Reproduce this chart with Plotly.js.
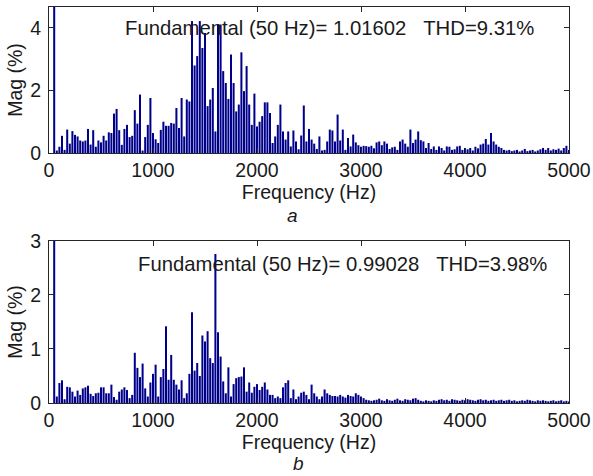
<!DOCTYPE html>
<html>
<head>
<meta charset="utf-8">
<script src="https://cdn.plot.ly/plotly-3.0.1.min.js"></script>
<style>html,body{margin:0;padding:0;background:#fff;}</style>
</head>
<body>
<div id="chart" style="width:593px;height:476px;"></div>
<script>
// Harmonic spectrum bins: first bin frequency and bin spacing (Hz)
const freqStart = 0;
const freqStep = 25;

// Case a: magnitude (% of fundamental), one value per 25 Hz bin, 0..5000 Hz
const magA = [
  0, 0, 100, 0.08, 0.2, 0.55, 0.1, 0.75, 0.3, 0.7,
  0.58, 0.53, 0.4, 0.37, 0.4, 0.77, 0.27, 0.73, 0.2, 0.4,
  0.34, 0.55, 0.4, 0.66, 0.64, 1.26, 1.41, 0.73, 0.26, 0.77,
  0.9, 0.51, 0.55, 1.37, 0.94, 1.87, 0.08, 0.51, 0.9, 1.76,
  0.64, 0.44, 0.32, 0.74, 1.0, 0.87, 0.87, 0.96, 0.94, 1.44,
  0.8, 1.76, 0.53, 1.71, 1.65, 4.22, 2.8, 3.1, 4.22, 3.36,
  3.84, 1.5, 1.71, 2.08, 0.69, 4.11, 4.11, 2.62, 2.24, 1.73,
  3.15, 2.24, 1.33, 1.55, 3.22, 1.98, 2.78, 1.55, 0.9, 1.9,
  0.85, 1.0, 1.18, 1.62, 1.62, 1.28, 0.32, 0.53, 0.9, 1.55,
  0.69, 0.43, 0.69, 0.21, 0.72, 0.37, 0.12, 0.56, 1.52, 0.37,
  0.77, 0.43, 0.3, 0.13, 0.53, 0.08, 0.1, 0.37, 0.75, 0.72,
  0.37, 1.23, 0.4, 0.75, 0.1, 0.48, 0.21, 0.59, 0.34, 0.25,
  0.2, 0.23, 0.22, 0.2, 0.23, 0.15, 0.34, 0.37, 0.25, 0.37,
  0.3, 0.13, 0.18, 0.2, 0.1, 0.37, 0.43, 0.3, 0.2, 0.75,
  0.32, 0.43, 0.69, 0.41, 0.37, 0.16, 0.32, 0.13, 0.21, 0.1,
  0.21, 0.16, 0.08, 0.21, 0.2, 0.1, 0.12, 0.21, 0.23, 0.1,
  0.16, 0.12, 0.16, 0.08, 0.2, 0.15, 0.27, 0.3, 0.45, 0.27,
  0.64, 0.37, 0.27, 0.2, 0.16, 0.1, 0.08, 0.1, 0.06, 0.08,
  0.1, 0.05, 0.08, 0.13, 0.06, 0.08, 0.1, 0.05, 0.08, 0.12,
  0.16, 0.1, 0.16, 0.08, 0.12, 0.1, 0.14, 0.08, 0.16, 0.23,
  0.1
];

// Case b: magnitude (% of fundamental)
const magB = [
  0, 0, 100, 0.12, 0.37, 0.42, 0.07, 0.3, 0.29, 0.21,
  0.12, 0.23, 0.15, 0.27, 0.29, 0.32, 0.17, 0.13, 0.18, 0.19,
  0.29, 0.29, 0.18, 0.18, 0.34, 0.11, 0.06, 0.21, 0.25, 0.29,
  0.24, 0.09, 0.15, 0.93, 0.65, 0.48, 0.73, 0.27, 0.12, 0.38,
  0.54, 0.71, 0.12, 0.48, 0.63, 1.42, 0.43, 0.89, 0.43, 0.34,
  0.25, 0.42, 0.09, 0.18, 0.54, 1.68, 0.6, 0.74, 0.5, 1.25,
  1.14, 1.33, 0.83, 0.74, 2.76, 1.31, 0.86, 0.4, 0.18, 0.66,
  0.12, 0.35, 0.46, 0.48, 0.49, 0.66, 0.21, 0.38, 0.19, 0.3,
  0.35, 0.24, 0.3, 0.38, 0.25, 0.15, 0.15, 0.09, 0.12, 0.09,
  0.29, 0.37, 0.42, 0.09, 0.25, 0.07, 0.12, 0.19, 0.21, 0.15,
  0.07, 0.34, 0.18, 0.12, 0.07, 0.12, 0.25, 0.18, 0.15, 0.13,
  0.13, 0.12, 0.15, 0.12, 0.1, 0.15, 0.13, 0.12, 0.18, 0.15,
  0.12, 0.09, 0.06, 0.05, 0.04, 0.05, 0.06, 0.08, 0.05, 0.04,
  0.07, 0.05, 0.04, 0.06, 0.08, 0.05, 0.04, 0.07, 0.06, 0.05,
  0.08, 0.09, 0.06, 0.04, 0.03, 0.05, 0.04, 0.03, 0.05, 0.04,
  0.06, 0.07, 0.05, 0.06, 0.04, 0.07, 0.06, 0.05, 0.04, 0.06,
  0.05, 0.07, 0.06, 0.05, 0.04, 0.06, 0.07, 0.05, 0.06, 0.04,
  0.05, 0.06, 0.04, 0.05, 0.06, 0.04, 0.05, 0.06, 0.04, 0.05,
  0.03, 0.04, 0.05, 0.04, 0.06, 0.05, 0.04, 0.03, 0.05, 0.04,
  0.05, 0.04, 0.03, 0.04, 0.05, 0.03, 0.04, 0.05, 0.03, 0.04,
  0.03
];

const xTickVals = [0, 1000, 2000, 3000, 4000, 5000];
const yTickValsA = [0, 2, 4];
const yTickValsB = [0, 1, 2, 3];
const labelA = 'Fundamental (50 Hz)= 1.01602\u00A0\u00A0\u00A0THD=9.31%';
const labelB = 'Fundamental (50 Hz)= 0.99028\u00A0\u00A0\u00A0THD=3.98%';
const xTitle = 'Frequency (Hz)';
const yTitle = 'Mag (%)';

const barColor = '#00008a';
const axisColor = '#262626';
const textColor = '#1a1a1a';
const fontFamily = '"Liberation Sans", Arial, Helvetica, sans-serif';

const traces = [
  {type: 'bar', x0: freqStart, dx: freqStep, y: magA, width: freqStep * 0.78,
   marker: {color: barColor, line: {width: 0}}, xaxis: 'x', yaxis: 'y', hoverinfo: 'x+y'},
  {type: 'bar', x0: freqStart, dx: freqStep, y: magB, width: freqStep * 0.78,
   marker: {color: barColor, line: {width: 0}}, xaxis: 'x2', yaxis: 'y2', hoverinfo: 'x+y'}
];

function xAxis(anchor) {
  return {
    anchor: anchor, domain: [0, 1], range: [0, 5000],
    tickmode: 'array', tickvals: xTickVals,
    ticks: 'inside', ticklen: 5, tickwidth: 1, tickcolor: axisColor,
    showline: true, linecolor: axisColor, linewidth: 1, mirror: 'ticks',
    showgrid: false, zeroline: false, ticklabelstandoff: 0,
    tickfont: {size: 19.5, color: textColor},
    title: {text: xTitle, font: {size: 19.5, color: textColor}, standoff: 0}
  };
}
function yAxis(anchor, domain, range, vals) {
  return {
    anchor: anchor, domain: domain, range: range,
    tickmode: 'array', tickvals: vals,
    ticks: 'inside', ticklen: 5, tickwidth: 1, tickcolor: axisColor,
    showline: true, linecolor: axisColor, linewidth: 1, mirror: 'ticks',
    showgrid: false, zeroline: false, ticklabelstandoff: 3,
    tickfont: {size: 19.5, color: textColor},
    title: {text: yTitle, font: {size: 19.5, color: textColor}, standoff: 2}
  };
}

const layout = {
  width: 593, height: 476,
  margin: {l: 49, r: 24, t: 7, b: 73, pad: 0},
  paper_bgcolor: '#ffffff', plot_bgcolor: '#ffffff',
  font: {family: fontFamily, color: textColor},
  showlegend: false,
  xaxis: xAxis('y'),
  yaxis: yAxis('x', [0.6313, 1], [0, 4.67], yTickValsA),
  xaxis2: xAxis('y2'),
  yaxis2: yAxis('x2', [0, 0.4091], [0, 3], yTickValsB),
  annotations: [
    {xref: 'x', yref: 'y', x: 711, y: 4.0, xanchor: 'left', yanchor: 'middle',
     text: labelA, showarrow: false, font: {size: 20.3, color: textColor}},
    {xref: 'x2', yref: 'y2', x: 834, y: 2.57, xanchor: 'left', yanchor: 'middle',
     text: labelB, showarrow: false, font: {size: 20.3, color: textColor}},
    {xref: 'paper', yref: 'paper', x: 0.469, y: 0.4747, xanchor: 'center', yanchor: 'middle',
     text: '<i>a</i>', showarrow: false, font: {size: 19, color: textColor}},
    {xref: 'paper', yref: 'paper', x: 0.48, y: -0.152, xanchor: 'center', yanchor: 'middle',
     text: '<i>b</i>', showarrow: false, font: {size: 19, color: textColor}}
  ]
};

Plotly.newPlot('chart', traces, layout, {displayModeBar: false, staticPlot: true});
</script>
</body>
</html>
